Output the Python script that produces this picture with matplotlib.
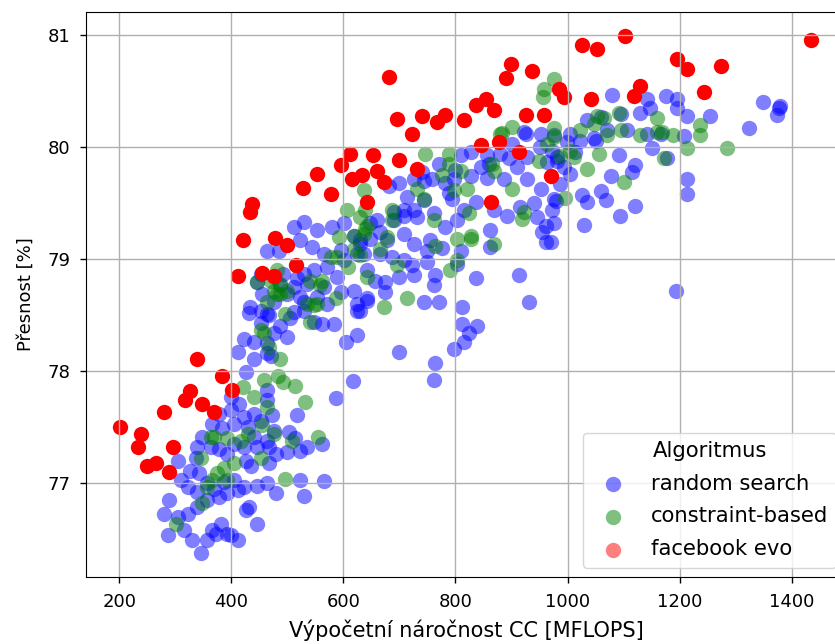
import matplotlib
matplotlib.use("Agg")
import matplotlib.pyplot as plt

# ---------------- data (x = MFLOPS, y = accuracy %) ----------------
random_search_x = [
    432, 452, 467, 423, 441, 411, 426, 441, 464, 470, 452, 399, 414, 464, 464, 473, 423, 441, 452, 399,
    378, 366, 384, 405, 429, 441, 464, 348, 339, 336, 363, 378, 393, 405, 423, 446, 467, 476, 426, 435,
    467, 304, 327, 342, 310, 322, 339, 357, 369, 387, 405, 423, 446, 464, 479, 289, 280, 304, 322, 339,
    357, 378, 393, 411, 432, 446, 426, 286, 316, 330, 345, 357, 366, 381, 393, 411, 399, 372,
    642, 761, 617, 586, 517, 502, 514, 535, 562, 479, 499, 523, 523, 565, 529,
    925, 952, 975, 901, 880, 928, 964, 981, 827, 809, 845, 797, 758, 743, 726, 699, 681, 714, 726, 815,
    836, 868, 892, 916, 940, 946, 961, 973, 975, 955, 961, 862, 708, 678, 687, 913, 931, 699, 642, 630,
    708, 690, 660, 743, 788, 856, 886, 928, 952, 910, 856, 630, 636,
    770, 800, 740, 860, 895, 950,
    511, 529, 553, 580, 464, 485, 523, 544, 565, 601, 618, 648, 666, 648, 690, 708, 731, 761, 782, 803,
    827, 782, 726, 755, 776, 809, 862, 749, 723, 764, 761, 836, 743, 770, 812, 812, 839, 824, 815, 797,
    764, 699, 624, 604, 583, 562, 547, 529, 511, 499, 476, 464, 464, 642, 618, 595, 675, 675, 624, 726,
    657, 589, 571, 547, 529, 493, 487, 511, 535, 553, 571, 529, 505, 487, 794, 803, 749, 708, 666, 624, 601,
    452, 446, 455, 517, 565, 624, 523, 499, 630, 595, 434, 476,
    1080, 1175, 1196, 1142, 1148, 1130, 1214, 1255, 1324, 1196, 1035, 1005, 1050, 1151, 1208, 1178, 1092,
    1077, 1115, 1121, 1059, 1068, 1026, 1035, 1121, 1093, 1029, 976, 970, 1214, 1214, 1193, 979, 982, 1014, 972,
    1348, 1380, 1374, 1377,
    999, 1023, 1047, 1059, 1071, 993, 1005, 1095, 1106, 1142, 1166, 987, 922,
]
random_search_y = [
    78.52, 78.54, 78.50, 78.29, 78.26, 78.17, 77.99, 78.11, 78.25, 78.14, 78.43, 77.77, 77.71, 77.83, 77.74, 77.61, 77.59, 77.62, 77.56, 77.65,
    77.62, 77.53, 77.49, 77.53, 77.50, 77.41, 77.38, 77.41, 77.32, 77.23, 77.32, 77.31, 77.26, 77.35, 77.32, 77.32, 77.32, 77.47, 77.20, 77.15,
    77.18, 77.20, 77.11, 77.09, 77.03, 76.97, 76.92, 77.00, 76.95, 77.01, 77.03, 76.97, 76.98, 77.00, 76.91, 76.85, 76.73, 76.70, 76.73, 76.79,
    76.85, 76.88, 76.91, 76.94, 76.79, 76.64, 76.76, 76.54, 76.58, 76.49, 76.38, 76.49, 76.58, 76.64, 76.55, 76.49, 76.54, 76.55,
    78.63, 77.92, 77.91, 77.76, 77.61, 77.46, 77.40, 77.32, 77.35, 77.26, 77.28, 77.29, 77.03, 77.02, 76.89,
    80.12, 80.12, 80.11, 80.03, 79.94, 79.91, 79.87, 79.91, 79.96, 79.93, 79.82, 79.72, 79.72, 79.70, 79.72, 79.68, 79.65, 79.56, 79.44, 79.44,
    79.51, 79.44, 79.39, 79.47, 79.50, 79.38, 79.30, 79.44, 79.54, 79.24, 79.15, 79.11, 79.23, 79.17, 79.02, 78.86, 78.62, 78.84, 78.90, 78.54,
    79.39, 79.35, 79.35, 79.53, 79.59, 79.73, 79.72, 79.72, 79.63, 79.82, 79.93, 79.17, 79.05,
    79.85, 79.80, 79.78, 79.85, 79.90, 80.00,
    79.29, 79.33, 79.26, 79.29, 79.07, 79.07, 79.17, 79.11, 79.05, 79.32, 79.21, 79.18, 79.24, 79.32, 79.42, 79.44, 79.38, 79.41, 79.29, 79.35,
    79.74, 79.68, 79.14, 79.17, 79.10, 79.07, 79.26, 78.98, 78.95, 78.86, 78.77, 78.83, 78.62, 78.62, 78.57, 78.42, 78.40, 78.34, 78.26, 78.20,
    78.07, 78.17, 78.32, 78.26, 78.42, 78.42, 78.44, 78.54, 78.53, 78.31, 78.34, 78.16, 78.51, 78.65, 78.72, 78.71, 78.71, 78.80, 78.54, 78.86,
    78.81, 78.84, 78.93, 78.90, 78.87, 78.87, 78.77, 78.75, 78.78, 78.66, 78.60, 78.62, 78.48, 78.40, 79.54, 78.96, 79.07, 78.99, 79.05, 79.05, 78.99,
    78.87, 78.80, 78.69, 78.83, 78.75, 78.60, 78.66, 78.69, 79.14, 79.08, 78.57, 78.62,
    80.47, 80.46, 80.43, 80.43, 80.35, 80.31, 80.28, 80.28, 80.17, 80.35, 80.24, 80.12, 80.06, 79.99, 80.10, 79.90, 79.93,
    79.74, 79.78, 79.84, 79.61, 79.53, 79.57, 79.51, 79.48, 79.39, 79.31, 79.32, 79.15, 79.72, 79.58, 78.72, 79.52, 79.88, 79.96, 79.97,
    80.40, 80.37, 80.29, 80.35,
    80.05, 80.06, 80.08, 80.27, 80.15, 79.82, 79.76, 80.30, 80.15, 80.12, 80.12, 79.67, 80.14,
]

constraint_x = [
    464, 452, 467, 420, 441, 458, 464, 455, 429, 476, 417, 393, 363, 345, 387, 393, 366, 375, 357, 405,
    348, 301, 452, 369,
    487, 484, 493, 514, 532, 508, 554, 496,
    788, 788, 868, 865, 901, 922, 919, 949, 964, 975, 901, 880, 639, 639, 776, 809, 764, 666, 746,
    487, 487, 476, 499, 482, 562, 586, 547, 496, 541, 458, 592, 618, 636, 642, 607, 636, 687, 687, 678,
    743, 731, 761, 797, 821, 824, 827, 827, 868, 803, 803, 791, 696, 630, 642, 714, 672, 577, 618, 541,
    553, 559,
    470, 482, 476, 446, 630, 535, 609, 589,
    976, 976, 1053, 1092, 1095, 1130, 1160, 1169, 1189, 1237, 1237, 1214, 1285, 1172, 1100, 1035, 1056,
    996, 987, 1023, 1071,
    1065, 1047, 1160, 1005, 1011, 958, 957, 883,
]
constraint_y = [
    78.62, 78.37, 78.22, 77.86, 77.77, 77.92, 77.68, 77.52, 77.44, 77.44, 77.38, 77.40, 77.41, 77.23, 77.14, 77.03, 77.03, 77.09, 76.97, 77.18,
    76.82, 76.64, 77.23, 77.41,
    78.11, 77.96, 77.90, 77.87, 77.73, 77.38, 77.41, 77.04,
    79.94, 79.85, 79.79, 79.85, 79.63, 79.42, 79.36, 79.88, 80.03, 80.09, 80.18, 80.12, 79.44, 79.27, 79.75, 79.79, 79.12, 79.09, 79.94,
    78.78, 78.69, 78.84, 78.72, 78.90, 78.81, 78.65, 78.59, 78.51, 78.44, 78.34, 79.20, 79.21, 79.23, 79.30, 79.44, 79.62, 79.44, 79.35, 79.20,
    79.54, 79.63, 79.35, 79.62, 79.63, 79.41, 79.21, 79.18, 79.14, 79.18, 78.99, 78.90, 78.95, 79.04, 78.84, 78.65, 78.57, 79.02, 79.09, 78.81,
    78.60, 78.77,
    78.81, 78.69, 78.72, 78.80, 79.38, 78.60, 78.93, 79.02,
    80.61, 80.17, 80.28, 80.31, 80.15, 80.11, 80.26, 80.14, 80.11, 80.20, 80.11, 79.99, 79.99, 79.90, 79.69, 79.81, 79.94,
    79.55, 79.92, 80.15, 80.11,
    80.26, 80.21, 80.14, 79.97, 79.91, 80.52, 80.45, 80.13,
]

facebook_x = [
    338, 384, 401, 326, 317, 347, 369, 279, 202, 239, 233, 296, 249, 265, 289,
    436, 433, 528, 552, 577, 595, 611, 616, 633, 642, 420, 477, 499, 516, 411, 455, 476,
    695, 723, 741, 767, 782, 815, 836, 868, 925, 958, 845, 877, 913, 970, 653, 699, 732, 660, 672, 863,
    1196, 1214, 1273, 1243, 1130, 1118, 1041, 984, 993, 1435,
    681, 899, 891, 937, 1026, 1053, 1102, 855,
]
facebook_y = [
    78.11, 77.96, 77.83, 77.82, 77.74, 77.71, 77.64, 77.64, 77.50, 77.44, 77.32, 77.32, 77.15, 77.18, 77.10,
    79.49, 79.42, 79.64, 79.76, 79.58, 79.84, 79.94, 79.72, 79.75, 79.51, 79.17, 79.19, 79.13, 78.95, 78.85, 78.88, 78.85,
    80.25, 80.12, 80.28, 80.23, 80.29, 80.24, 80.38, 80.33, 80.29, 80.29, 80.02, 80.05, 79.96, 79.74, 79.93, 79.89, 79.81, 79.79, 79.69, 79.51,
    80.79, 80.70, 80.73, 80.49, 80.55, 80.46, 80.43, 80.52, 80.45, 80.96,
    80.63, 80.74, 80.62, 80.68, 80.91, 80.88, 80.99, 80.43,
]

labels = ["random search", "constraint-based", "facebook evo"]
x_ticks = [200, 400, 600, 800, 1000, 1200, 1400]
y_ticks = [77, 78, 79, 80, 81]

# ---------------- plot ----------------
fig = plt.figure(figsize=(8.35, 6.44), dpi=100)
# axes extends slightly past the right edge of the image (as in the reference crop)
ax = fig.add_axes([86.0 / 835, 67.0 / 644, (846.0 - 86.0) / 835, (577.0 - 12.0) / 644])

S = 122
ax.scatter(random_search_x, random_search_y, s=S, color="blue", alpha=0.5, linewidths=0, label=labels[0])
ax.scatter(constraint_x, constraint_y, s=S, color="green", alpha=0.5, linewidths=0, label=labels[1])
ax.scatter(facebook_x, facebook_y, s=S, color="red", alpha=1.0, linewidths=0, label=labels[2])

ax.set_xlim(140.5, 1497)
ax.set_ylim(76.163, 81.208)
ax.set_xticks(x_ticks)
ax.set_yticks(y_ticks)
ax.tick_params(labelsize=13, length=4.5, width=1.0, pad=7)
ax.grid(True, color="#b0b0b0", linewidth=1.0)

ax.set_xlabel("Výpočetní náročnost CC [MFLOPS]", fontsize=15, labelpad=6)
ax.set_ylabel("Přesnost [%]", fontsize=13, labelpad=9)

leg = ax.legend(title="Algoritmus", loc="lower right", fontsize=15.2, title_fontsize=15.2,
                borderaxespad=0.45, labelspacing=0.6)
for h in leg.legend_handles:
    h.set_alpha(0.5)

fig.savefig("out.png", dpi=100)
